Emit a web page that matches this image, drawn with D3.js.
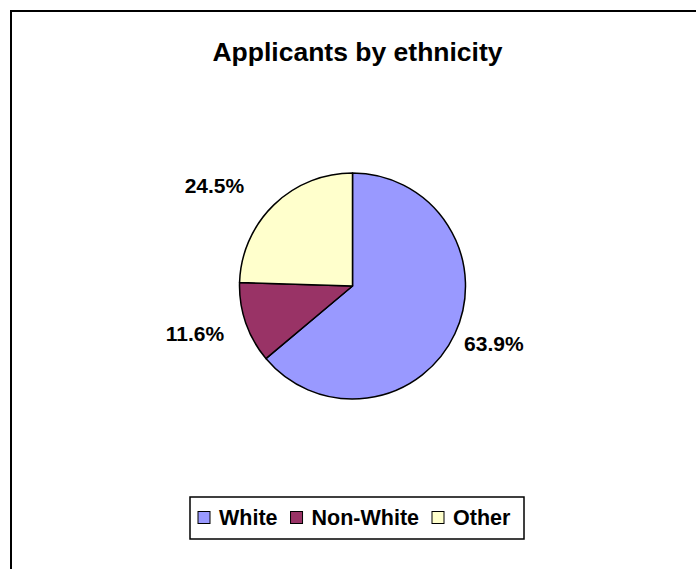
<!DOCTYPE html>
<html>
<head>
<meta charset="utf-8">
<script src="https://cdn.jsdelivr.net/npm/d3@7"></script>
<style>
  body { margin: 0; background: #fff; }
  text { font-family: "Liberation Sans", Arial, sans-serif; font-weight: bold; fill: #000; }
</style>
</head>
<body>
<script>
// data
var categories = ["White", "Non-White", "Other"];
var values = [63.9, 11.6, 24.5];
var colors = ["#9999FF", "#993366", "#FFFFCC"];
// small nudges so labels sit where Excel put them
var labelNudge = [[-2, -9], [-8, -4], [-28, 13]];

var width = 696;
var height = 569;

var svg = d3.select("body")
    .append("svg")
    .attr("width", width)
    .attr("height", height);

// chart area border (runs off the right and bottom)
svg.append("rect")
    .attr("x", 11)
    .attr("y", 11)
    .attr("width", 720)
    .attr("height", 620)
    .style("fill", "none")
    .style("stroke", "#000")
    .style("stroke-width", 2);

// title
svg.append("text")
    .attr("x", 357.5)
    .attr("y", 61)
    .attr("text-anchor", "middle")
    .style("font-size", "26.5px")
    .text("Applicants by ethnicity");

// pie
var cx = 352.5, cy = 286, r = 113;

var pie = d3.pie().sort(null).value(function (d) { return d; });
var arcs = pie(values);

var arc = d3.arc().innerRadius(0).outerRadius(r);
var labelArc = d3.arc().innerRadius(r * 1.4).outerRadius(r * 1.4);

var g = svg.append("g").attr("transform", "translate(" + cx + "," + cy + ")");

g.selectAll(".slice")
    .data(arcs)
    .enter().append("path")
    .attr("class", "slice")
    .attr("d", arc)
    .style("fill", function (d, i) { return colors[i]; })
    .style("stroke", "#000")
    .style("stroke-width", 1.5)
    .style("stroke-linejoin", "round");

g.selectAll(".label")
    .data(arcs)
    .enter().append("text")
    .attr("class", "label")
    .attr("x", function (d, i) { return labelArc.centroid(d)[0] + labelNudge[i][0]; })
    .attr("y", function (d, i) { return labelArc.centroid(d)[1] + labelNudge[i][1]; })
    .attr("text-anchor", "middle")
    .attr("dominant-baseline", "central")
    .style("font-size", "21px")
    .text(function (d) { return d.data.toFixed(1) + "%"; });

// legend
var legend = svg.append("g");
legend.append("rect")
    .attr("x", 190)
    .attr("y", 497)
    .attr("width", 334)
    .attr("height", 42)
    .style("fill", "#fff")
    .style("stroke", "#000")
    .style("stroke-width", 1.5);

var lx = 198;
categories.forEach(function (c, i) {
    legend.append("rect")
        .attr("x", lx)
        .attr("y", 511.5)
        .attr("width", 12)
        .attr("height", 12)
        .style("fill", colors[i])
        .style("stroke", "#000")
        .style("stroke-width", 1);
    var t = legend.append("text")
        .attr("x", lx + 21)
        .attr("y", 525)
        .style("font-size", "21.5px")
        .text(c);
    lx = lx + 21 + t.node().getComputedTextLength() + 13;
});
</script>
</body>
</html>
